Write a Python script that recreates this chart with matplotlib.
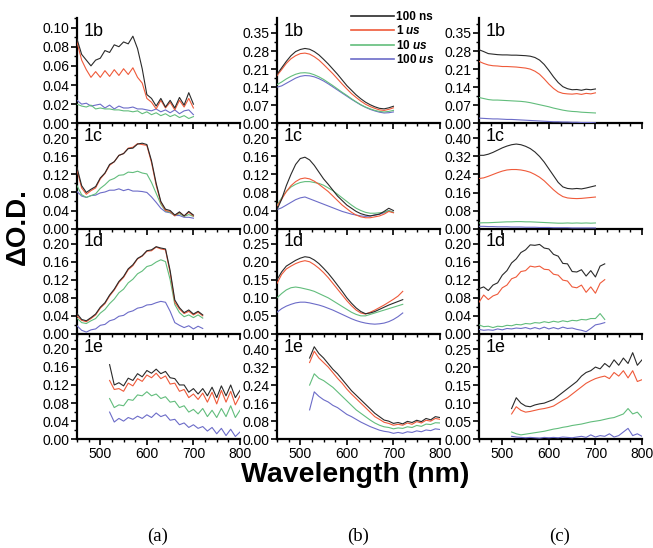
import numpy as np
import matplotlib
matplotlib.use("Agg")
import matplotlib.pyplot as plt
from matplotlib.ticker import MultipleLocator, FormatStrFormatter
from matplotlib.lines import Line2D

plt.rcParams['font.family'] = ['Liberation Sans', 'DejaVu Sans']
plt.rcParams['mathtext.fontset'] = 'custom'
plt.rcParams['mathtext.it'] = 'Liberation Sans:italic:bold'
plt.rcParams['mathtext.rm'] = 'Liberation Sans:bold'

# wavelength grids (nm)
W_A = np.arange(450, 701, 10)   # 450..700
W_B = np.arange(450, 721, 10)   # 450..720
W_E = np.arange(520, 801, 10)   # 520..800

LABELS = ["100 ns", "1 $\\mathit{us}$", "10 $\\mathit{us}$", "100 $\\mathit{us}$"]
COLORS = ["#2a2a2a", "#ef5a3a", "#62bd7c", "#6c6cc8"]

# ---- column (a) ----
a1b_k = [0.088,0.072,0.066,0.060,0.066,0.068,0.076,0.074,0.082,0.080,0.085,0.083,0.091,0.078,0.057,0.030,0.026,0.018,0.026,0.017,0.024,0.016,0.027,0.019,0.032,0.020]
a1b_r = [0.085,0.066,0.056,0.048,0.054,0.048,0.055,0.049,0.056,0.050,0.057,0.051,0.058,0.048,0.042,0.026,0.022,0.015,0.024,0.016,0.022,0.014,0.024,0.017,0.026,0.016]
a1b_g = [0.020,0.018,0.017,0.019,0.015,0.016,0.015,0.015,0.014,0.014,0.013,0.013,0.012,0.013,0.010,0.012,0.009,0.011,0.008,0.010,0.007,0.009,0.006,0.008,0.005,0.007]
a1b_b = [0.024,0.020,0.021,0.018,0.019,0.020,0.016,0.019,0.015,0.018,0.016,0.016,0.017,0.015,0.015,0.014,0.013,0.015,0.012,0.014,0.011,0.014,0.010,0.013,0.014,0.009]

a1c_k = [0.135,0.095,0.080,0.087,0.093,0.112,0.123,0.142,0.148,0.162,0.166,0.177,0.178,0.187,0.189,0.186,0.150,0.100,0.060,0.043,0.040,0.030,0.037,0.028,0.038,0.030]
a1c_r = [0.130,0.090,0.076,0.084,0.090,0.110,0.122,0.140,0.148,0.162,0.166,0.178,0.180,0.188,0.186,0.184,0.146,0.096,0.058,0.040,0.038,0.028,0.036,0.028,0.036,0.028]
a1c_g = [0.095,0.075,0.069,0.073,0.077,0.089,0.097,0.107,0.111,0.118,0.119,0.125,0.124,0.127,0.123,0.121,0.102,0.078,0.054,0.039,0.036,0.029,0.033,0.027,0.031,0.027]
a1c_b = [0.082,0.072,0.069,0.073,0.074,0.079,0.081,0.085,0.085,0.088,0.084,0.087,0.083,0.083,0.082,0.080,0.070,0.058,0.045,0.037,0.035,0.029,0.029,0.025,0.025,0.023]

a1d_k = [0.045,0.032,0.029,0.036,0.044,0.059,0.069,0.086,0.099,0.116,0.127,0.144,0.153,0.167,0.173,0.184,0.186,0.193,0.190,0.188,0.140,0.075,0.058,0.047,0.053,0.044,0.050,0.042]
a1d_r = [0.040,0.030,0.027,0.034,0.042,0.057,0.067,0.084,0.097,0.114,0.125,0.142,0.151,0.166,0.172,0.183,0.184,0.192,0.188,0.186,0.135,0.070,0.055,0.045,0.050,0.042,0.048,0.040]
a1d_g = [0.035,0.025,0.023,0.029,0.034,0.046,0.054,0.067,0.077,0.091,0.099,0.113,0.121,0.133,0.139,0.149,0.152,0.159,0.164,0.160,0.120,0.065,0.047,0.038,0.042,0.036,0.042,0.035]
a1d_b = [0.018,0.008,0.004,0.009,0.011,0.019,0.021,0.029,0.032,0.039,0.041,0.048,0.051,0.057,0.059,0.064,0.065,0.069,0.072,0.070,0.050,0.025,0.019,0.014,0.018,0.011,0.017,0.012]

a1e_k = [0.165,0.120,0.125,0.118,0.135,0.130,0.145,0.138,0.152,0.146,0.155,0.145,0.150,0.136,0.134,0.120,0.120,0.104,0.112,0.100,0.112,0.096,0.115,0.092,0.118,0.096,0.120,0.092,0.108]
a1e_r = [0.130,0.110,0.112,0.106,0.124,0.118,0.134,0.128,0.142,0.136,0.146,0.134,0.140,0.122,0.124,0.106,0.110,0.092,0.100,0.088,0.102,0.082,0.104,0.078,0.108,0.082,0.106,0.076,0.096]
a1e_g = [0.090,0.070,0.076,0.074,0.088,0.086,0.098,0.096,0.105,0.096,0.100,0.090,0.094,0.082,0.084,0.070,0.074,0.060,0.066,0.056,0.068,0.050,0.064,0.048,0.068,0.050,0.074,0.048,0.064]
a1e_b = [0.060,0.038,0.046,0.040,0.048,0.044,0.051,0.046,0.054,0.048,0.058,0.050,0.054,0.042,0.044,0.032,0.036,0.026,0.032,0.024,0.028,0.018,0.026,0.012,0.024,0.008,0.022,0.006,0.016]

# ---- column (b) ----
b1b_k = [0.190,0.215,0.240,0.262,0.278,0.286,0.290,0.287,0.278,0.265,0.248,0.230,0.210,0.190,0.168,0.146,0.128,0.110,0.095,0.082,0.072,0.064,0.058,0.056,0.060,0.066]
b1b_r = [0.185,0.208,0.232,0.250,0.262,0.270,0.272,0.268,0.258,0.245,0.228,0.210,0.192,0.172,0.152,0.133,0.115,0.100,0.086,0.074,0.065,0.058,0.052,0.050,0.054,0.060]
b1b_g = [0.150,0.160,0.172,0.182,0.190,0.195,0.196,0.194,0.188,0.180,0.170,0.158,0.146,0.133,0.120,0.108,0.095,0.083,0.072,0.063,0.056,0.050,0.046,0.044,0.046,0.050]
b1b_b = [0.140,0.145,0.155,0.165,0.175,0.182,0.185,0.184,0.180,0.173,0.164,0.153,0.141,0.129,0.117,0.105,0.093,0.082,0.071,0.062,0.054,0.048,0.043,0.040,0.041,0.044]

b1c_k = [0.042,0.065,0.095,0.120,0.142,0.155,0.158,0.152,0.140,0.125,0.110,0.098,0.085,0.072,0.062,0.052,0.045,0.038,0.033,0.030,0.028,0.030,0.032,0.038,0.045,0.040]
b1c_r = [0.050,0.065,0.082,0.095,0.104,0.110,0.112,0.110,0.105,0.098,0.090,0.082,0.072,0.062,0.052,0.044,0.036,0.030,0.026,0.024,0.024,0.026,0.028,0.032,0.038,0.035]
b1c_g = [0.052,0.068,0.082,0.092,0.098,0.102,0.104,0.104,0.102,0.100,0.096,0.090,0.084,0.076,0.068,0.060,0.052,0.045,0.040,0.036,0.034,0.034,0.035,0.036,0.040,0.036]
b1c_b = [0.042,0.046,0.052,0.058,0.064,0.068,0.070,0.066,0.062,0.058,0.054,0.050,0.046,0.042,0.038,0.035,0.032,0.030,0.028,0.027,0.028,0.030,0.032,0.035,0.040,0.036]

b1d_k = [0.150,0.172,0.188,0.196,0.204,0.210,0.214,0.212,0.205,0.195,0.182,0.168,0.152,0.135,0.118,0.100,0.085,0.072,0.062,0.056,0.058,0.062,0.068,0.074,0.080,0.085,0.090,0.095]
b1d_r = [0.140,0.165,0.180,0.188,0.195,0.200,0.203,0.200,0.192,0.182,0.170,0.156,0.140,0.124,0.108,0.092,0.078,0.066,0.058,0.055,0.060,0.066,0.073,0.080,0.088,0.096,0.105,0.118]
b1d_g = [0.100,0.112,0.122,0.128,0.130,0.128,0.125,0.122,0.118,0.112,0.106,0.100,0.092,0.084,0.076,0.068,0.060,0.054,0.050,0.050,0.054,0.058,0.062,0.066,0.070,0.074,0.078,0.082]
b1d_b = [0.060,0.070,0.077,0.082,0.086,0.088,0.088,0.086,0.083,0.080,0.076,0.071,0.066,0.060,0.054,0.048,0.042,0.037,0.033,0.030,0.028,0.027,0.028,0.030,0.034,0.040,0.048,0.058]

b1e_k = [0.360,0.410,0.380,0.360,0.335,0.310,0.290,0.265,0.240,0.215,0.195,0.175,0.155,0.135,0.115,0.100,0.085,0.080,0.070,0.074,0.068,0.079,0.074,0.084,0.078,0.092,0.086,0.100,0.096]
b1e_r = [0.340,0.390,0.360,0.340,0.320,0.295,0.270,0.248,0.222,0.200,0.180,0.160,0.140,0.120,0.100,0.088,0.075,0.070,0.062,0.066,0.062,0.072,0.066,0.078,0.072,0.084,0.080,0.092,0.088]
b1e_g = [0.240,0.290,0.270,0.260,0.245,0.230,0.210,0.190,0.170,0.150,0.130,0.115,0.100,0.085,0.072,0.062,0.055,0.052,0.046,0.050,0.048,0.055,0.052,0.061,0.057,0.067,0.065,0.073,0.072]
b1e_b = [0.130,0.210,0.190,0.175,0.165,0.150,0.140,0.125,0.110,0.100,0.088,0.076,0.066,0.056,0.048,0.040,0.035,0.032,0.026,0.030,0.026,0.033,0.030,0.037,0.033,0.041,0.038,0.046,0.043]

# ---- column (c) ----
c1b_k = [0.285,0.278,0.270,0.268,0.266,0.265,0.265,0.264,0.264,0.263,0.262,0.260,0.255,0.245,0.228,0.205,0.180,0.158,0.142,0.134,0.130,0.131,0.128,0.132,0.130,0.133]
c1b_r = [0.240,0.232,0.226,0.223,0.222,0.220,0.220,0.219,0.218,0.216,0.214,0.210,0.202,0.190,0.172,0.152,0.135,0.122,0.116,0.114,0.113,0.115,0.112,0.116,0.114,0.118]
c1b_g = [0.100,0.096,0.092,0.090,0.090,0.089,0.088,0.087,0.086,0.085,0.083,0.080,0.076,0.072,0.068,0.064,0.059,0.055,0.051,0.048,0.046,0.045,0.043,0.042,0.041,0.040]
c1b_b = [0.020,0.019,0.018,0.017,0.017,0.016,0.015,0.015,0.014,0.013,0.012,0.011,0.010,0.009,0.008,0.007,0.006,0.006,0.005,0.005,0.004,0.004,0.003,0.003,0.003,0.002]

c1c_k = [0.325,0.325,0.330,0.338,0.348,0.358,0.366,0.372,0.375,0.372,0.365,0.355,0.340,0.320,0.295,0.265,0.235,0.205,0.185,0.178,0.176,0.178,0.176,0.180,0.185,0.190]
c1c_r = [0.222,0.225,0.232,0.240,0.248,0.255,0.260,0.262,0.262,0.260,0.256,0.250,0.240,0.228,0.212,0.192,0.172,0.155,0.142,0.136,0.134,0.133,0.134,0.136,0.138,0.140]
c1c_g = [0.025,0.026,0.026,0.027,0.028,0.029,0.030,0.030,0.031,0.031,0.030,0.030,0.029,0.028,0.027,0.026,0.025,0.024,0.024,0.025,0.024,0.025,0.024,0.025,0.024,0.025]
c1c_b = [0.010,0.010,0.009,0.009,0.008,0.008,0.008,0.007,0.007,0.007,0.006,0.006,0.006,0.005,0.005,0.005,0.004,0.004,0.004,0.004,0.003,0.003,0.003,0.003,0.003,0.003]

c1d_k = [0.100,0.104,0.096,0.108,0.113,0.130,0.140,0.157,0.166,0.180,0.186,0.197,0.196,0.198,0.190,0.188,0.176,0.172,0.156,0.155,0.138,0.137,0.142,0.128,0.140,0.126,0.150,0.155]
c1d_r = [0.070,0.086,0.076,0.084,0.088,0.102,0.108,0.122,0.126,0.138,0.140,0.150,0.148,0.150,0.143,0.142,0.132,0.130,0.119,0.117,0.104,0.102,0.108,0.092,0.104,0.090,0.112,0.120]
c1d_g = [0.020,0.016,0.017,0.014,0.017,0.016,0.019,0.018,0.021,0.020,0.023,0.022,0.025,0.024,0.027,0.025,0.028,0.026,0.029,0.027,0.030,0.029,0.032,0.031,0.034,0.034,0.045,0.032]
c1d_b = [0.010,0.008,0.009,0.008,0.011,0.009,0.012,0.011,0.013,0.012,0.014,0.011,0.014,0.011,0.015,0.011,0.014,0.011,0.015,0.012,0.013,0.010,0.008,0.005,0.012,0.020,0.022,0.025]

c1e_k = [0.085,0.115,0.100,0.092,0.090,0.095,0.098,0.100,0.105,0.110,0.120,0.130,0.140,0.150,0.160,0.175,0.185,0.190,0.200,0.195,0.210,0.200,0.220,0.205,0.225,0.210,0.240,0.205,0.220]
c1e_r = [0.070,0.090,0.080,0.075,0.077,0.080,0.083,0.085,0.088,0.092,0.100,0.108,0.115,0.125,0.135,0.145,0.155,0.162,0.168,0.172,0.175,0.168,0.185,0.175,0.190,0.170,0.190,0.160,0.165]
c1e_g = [0.020,0.015,0.012,0.014,0.016,0.018,0.020,0.022,0.025,0.028,0.030,0.033,0.035,0.038,0.040,0.042,0.045,0.048,0.050,0.052,0.055,0.058,0.060,0.065,0.070,0.085,0.070,0.075,0.060]
c1e_b = [0.008,0.006,0.005,0.004,0.005,0.004,0.003,0.005,0.004,0.005,0.004,0.006,0.005,0.004,0.006,0.008,0.005,0.012,0.006,0.010,0.008,0.015,0.006,0.010,0.020,0.030,0.010,0.015,0.008]

# panel table: (column, row, label, x grid, series, ymax, ytick step, top tick)
panels = [
    (0, 0, "1b", W_A, [a1b_k, a1b_r, a1b_g, a1b_b], 0.110, 0.02, 0.10),
    (0, 1, "1c", W_A, [a1c_k, a1c_r, a1c_g, a1c_b], 0.233, 0.04, 0.20),
    (0, 2, "1d", W_B, [a1d_k, a1d_r, a1d_g, a1d_b], 0.233, 0.04, 0.20),
    (0, 3, "1e", W_E, [a1e_k, a1e_r, a1e_g, a1e_b], 0.233, 0.04, 0.20),
    (1, 0, "1b", W_A, [b1b_k, b1b_r, b1b_g, b1b_b], 0.408, 0.07, 0.35),
    (1, 1, "1c", W_A, [b1c_k, b1c_r, b1c_g, b1c_b], 0.233, 0.04, 0.20),
    (1, 2, "1d", W_B, [b1d_k, b1d_r, b1d_g, b1d_b], 0.292, 0.05, 0.25),
    (1, 3, "1e", W_E, [b1e_k, b1e_r, b1e_g, b1e_b], 0.467, 0.08, 0.40),
    (2, 0, "1b", W_A, [c1b_k, c1b_r, c1b_g, c1b_b], 0.408, 0.07, 0.35),
    (2, 1, "1c", W_A, [c1c_k, c1c_r, c1c_g, c1c_b], 0.467, 0.08, 0.40),
    (2, 2, "1d", W_B, [c1d_k, c1d_r, c1d_g, c1d_b], 0.233, 0.04, 0.20),
    (2, 3, "1e", W_E, [c1e_k, c1e_r, c1e_g, c1e_b], 0.292, 0.05, 0.25),
]

W, H = 653, 548
fig = plt.figure(figsize=(W / 100, H / 100), dpi=100)
col_left = [77, 277, 479]
col_w = 163
row_top = [18, 123.3, 228.6, 333.9]
row_h = 105.3

axes = {}
for c, r, lab, wl, series, ymax, step, top in panels:
    ax = fig.add_axes([col_left[c] / W, 1 - (row_top[r] + row_h) / H, col_w / W, row_h / H])
    axes[(c, r)] = ax
    ax.patch.set_alpha(0)
    for s in ["top", "right"]:
        ax.spines[s].set_visible(False)
    for s in ["left", "bottom"]:
        ax.spines[s].set_linewidth(1.6)
    # draw slow components first so 100 ns sits on top
    for i in [3, 2, 1, 0]:
        ax.plot(wl, series[i], color=COLORS[i], lw=0.8, zorder=3 + (3 - i))
    ax.set_xlim(450, 800)
    ax.set_ylim(0, ymax)
    ax.xaxis.set_major_locator(MultipleLocator(100))
    ax.xaxis.set_minor_locator(MultipleLocator(25))
    ax.set_yticks(np.arange(0, top + step / 2, step))
    ax.yaxis.set_minor_locator(MultipleLocator(step / 2))
    ax.yaxis.set_major_formatter(FormatStrFormatter("%.2f"))
    ax.tick_params(which="major", direction="out", length=4, width=1.2, labelsize=10, pad=1.5)
    ax.tick_params(which="minor", direction="out", length=2.5, width=1.0)
    if r < 3:
        ax.tick_params(labelbottom=False)
    ax.text(0.04, 0.955, lab, transform=ax.transAxes, fontsize=13, va="top", ha="left")

handles = [Line2D([], [], color=COLORS[i], lw=1.2) for i in range(4)]
axes[(1, 0)].legend(handles, LABELS, loc="upper left", bbox_to_anchor=(351 / W, 1 - 11 / H),
                    bbox_transform=fig.transFigure, frameon=False,
                    prop={"weight": "bold", "size": 8.5}, handlelength=3.6,
                    handletextpad=0.25, labelspacing=0.12, borderpad=0, borderaxespad=0)

fig.text(18 / W, 1 - 227 / H, "\u0394O.D.", rotation=90, fontsize=20, fontweight="bold",
         ha="center", va="center")
fig.text(355 / W, 1 - 482 / H, "Wavelength (nm)", fontsize=20.5, fontweight="bold",
         ha="center", va="baseline")
for x, t in zip([158, 358, 560], ["(a)", "(b)", "(c)"]):
    fig.text(x / W, 1 - 536 / H, t, fontsize=13.5, family="Liberation Serif",
             ha="center", va="center")

fig.savefig("out.png", dpi=100)
